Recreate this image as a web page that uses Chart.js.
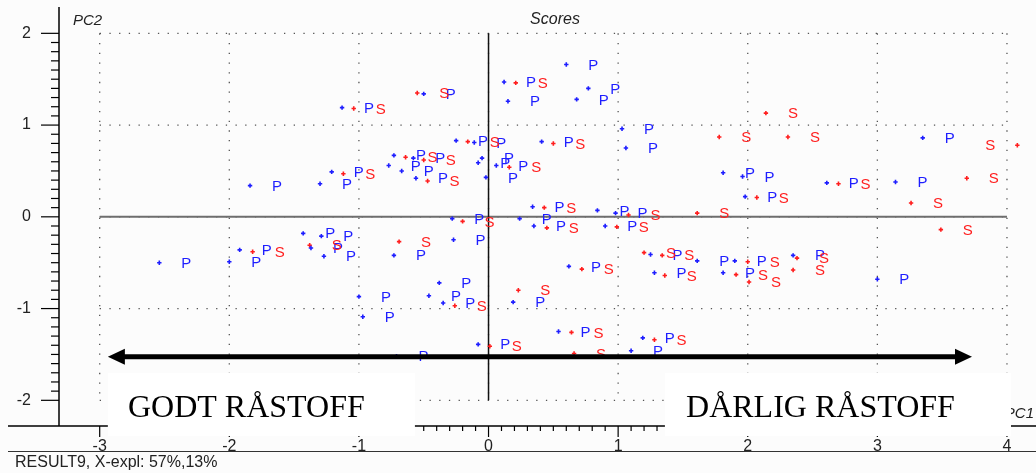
<!DOCTYPE html>
<html>
<head>
<meta charset="utf-8">
<script src="https://cdn.jsdelivr.net/npm/chart.js@4.4.1/dist/chart.umd.min.js"></script>
<style>
  html, body { margin: 0; padding: 0; background: #fcfcfc; }
  canvas { display: block; }
</style>
</head>
<body>
<canvas id="scores" width="1036" height="473"></canvas>
<script>
'use strict';

// ── Data (PC1 / PC2 scores) ──────────────────────────────────────────────────

const pScoreX = [-1.13, -0.50, 0.12, 0.15, 0.60, 0.77, 0.68, 1.03, 1.06, -0.25, -0.11, 0.41,
  -0.73, -0.58, -0.77, -0.67, -0.56, -0.05, -0.08, 0.06, -0.02, -1.21, -1.30, -1.84,
  1.81, 1.96, 1.98, 2.61, 3.14, 3.35, -0.28, 0.24, 0.34, 0.35, 0.84, 0.98, 0.90,
  -2.54, -2.00, -1.92, -1.43, -1.29, -1.37, -1.27, -0.73, -0.27, 0.62, 1.25, 1.28,
  1.61, 1.90, 1.81, 2.35, 3.00, -1.00, -0.97, -0.38, -0.46, -0.35, 0.19, -0.08, 0.54,
  1.19, 1.10, -0.71];
const pScoreY = [1.19, 1.34, 1.47, 1.26, 1.66, 1.40, 1.28, 0.96, 0.75, 0.83, 0.81, 0.82,
  0.67, 0.64, 0.56, 0.50, 0.42, 0.64, 0.59, 0.56, 0.43, 0.49, 0.36, 0.34,
  0.48, 0.44, 0.22, 0.37, 0.38, 0.86, -0.02, -0.02, 0.11, -0.10, 0.07, 0.04, -0.10,
  -0.50, -0.49, -0.36, -0.18, -0.21, -0.34, -0.43, -0.42, -0.25, -0.54, -0.41, -0.61,
  -0.48, -0.48, -0.61, -0.42, -0.68, -0.87, -1.09, -0.72, -0.86, -0.94, -0.93, -1.39, -1.25,
  -1.32, -1.46, -1.52];

const sScoreX = [-1.04, -0.55, 0.21, -0.16, 0.50, -0.64, -0.50, -0.47, 0.16, -1.12,
  2.14, 1.78, 2.31, 4.08, 2.07, 2.70, 3.69, 3.26, 1.61, 3.49,
  -0.20, 0.43, 0.45, 1.08, 0.99, -1.82, -1.38, -0.69, 0.72, 1.20,
  1.34, 1.36, 2.00, 1.91, 2.01, 2.38, 2.35, -0.26, 0.23, 0.01,
  0.64, 0.66, 1.28];
const sScoreY = [1.18, 1.35, 1.46, 0.82, 0.80, 0.65, 0.62, 0.39, 0.54, 0.47,
  1.13, 0.87, 0.87, 0.78, 0.21, 0.36, 0.42, 0.15, 0.04, -0.14,
  -0.05, 0.10, -0.12, 0.02, -0.11, -0.38, -0.31, -0.27, -0.57, -0.39,
  -0.42, -0.64, -0.49, -0.63, -0.71, -0.45, -0.58, -0.97, -0.80, -1.41,
  -1.26, -1.49, -1.34];

const xTicks = [-3, -2, -1, 0, 1, 2, 3, 4];
const yTicks = [-2, -1, 0, 1, 2];

const X_MIN = -3.314, X_MAX = 4.224;
const Y_MIN = -2.28,  Y_MAX = 2.287;

const BLUE = '#1e1eff';
const RED  = '#ff1e1e';
const INK  = '#222';
const SANS = '"Liberation Sans", Arial, sans-serif';
const SERIF = '"Liberation Serif", "Times New Roman", serif';
const LABEL_DX = 27;

// ── Helpers ──────────────────────────────────────────────────────────────────

const toPoints = (xs, ys) => xs.map((v, i) => ({ x: v, y: ys[i] }));

function seg(ctx, x0, y0, x1, y1) {
  ctx.beginPath();
  ctx.moveTo(x0, y0);
  ctx.lineTo(x1, y1);
  ctx.stroke();
}

// ── Plugins ──────────────────────────────────────────────────────────────────

const framePlugin = {
  id: 'frame',
  beforeDatasetsDraw(chart) {
    const { ctx, chartArea: a, scales: { x, y } } = chart;
    const px = v => x.getPixelForValue(v);
    const py = v => y.getPixelForValue(v);
    ctx.save();

    // dotted grid, only inside -3..4 / -2..2
    ctx.strokeStyle = '#555';
    ctx.lineWidth = 1.3;
    ctx.setLineDash([1.3, 8.4]);
    xTicks.forEach(v => seg(ctx, px(v), py(2), px(v), py(-2)));
    yTicks.forEach(v => seg(ctx, px(-3), py(v), px(4), py(v)));
    ctx.setLineDash([]);

    // zero lines
    ctx.strokeStyle = '#6e6e6e';
    ctx.lineWidth = 2;
    seg(ctx, px(-3), py(0), px(4), py(0));
    ctx.strokeStyle = '#111';
    ctx.lineWidth = 1.5;
    seg(ctx, px(0), py(2), px(0), py(-2));

    // y spine with major / minor ticks
    ctx.strokeStyle = '#000';
    ctx.lineWidth = 1.5;
    seg(ctx, a.left, a.top, a.left, a.bottom);
    ctx.lineWidth = 1.2;
    for (let k = -20; k <= 20; k++) {
      const yy = py(k / 10);
      seg(ctx, a.left - (k % 10 === 0 ? 18 : 8), yy, a.left, yy);
    }

    // x axis line with ticks
    ctx.lineWidth = 1.5;
    seg(ctx, 8, a.bottom, chart.width, a.bottom);
    ctx.lineWidth = 1.2;
    for (let k = -30; k <= 40; k++) {
      const xx = px(k / 10);
      seg(ctx, xx, a.bottom, xx, a.bottom + (k % 10 === 0 ? 11 : 5));
    }
    ctx.restore();
  },

  afterDatasetsDraw(chart) {
    const { ctx, chartArea: a } = chart;
    ctx.save();
    ctx.font = '15px ' + SANS;
    ctx.textAlign = 'center';
    ctx.textBaseline = 'middle';
    chart.data.datasets.forEach((ds, i) => {
      ctx.fillStyle = ds.borderColor;
      chart.getDatasetMeta(i).data.forEach(pt => {
        let lx = pt.x + LABEL_DX;
        if (lx + 5 > a.right) lx = pt.x - LABEL_DX;
        ctx.fillText(ds.label, lx, pt.y + 1);
      });
    });
    ctx.restore();
  },

  afterDraw(chart) {
    const { ctx, chartArea: a, scales: { x, y } } = chart;
    const px = v => x.getPixelForValue(v);
    const py = v => y.getPixelForValue(v);
    ctx.save();

    // titles
    ctx.fillStyle = INK;
    ctx.textBaseline = 'middle';
    ctx.font = 'italic 15px ' + SANS;
    ctx.textAlign = 'left';
    ctx.fillText('PC2', 73, 21);
    ctx.textAlign = 'center';
    ctx.font = 'italic 16px ' + SANS;
    ctx.fillText('Scores', 555, 20);
    ctx.font = 'italic 15px ' + SANS;
    ctx.textAlign = 'right';
    ctx.fillText('PC1', a.right - 2, 414);

    // arrow
    const ay = py(-1.525);
    const x0 = px(-2.937), x1 = px(3.73);
    ctx.strokeStyle = '#000';
    ctx.fillStyle = '#000';
    ctx.lineWidth = 5;
    seg(ctx, x0 + 10, ay, x1 - 10, ay);
    ctx.beginPath();
    ctx.moveTo(x0, ay); ctx.lineTo(x0 + 17, ay - 8); ctx.lineTo(x0 + 17, ay + 8);
    ctx.closePath(); ctx.fill();
    ctx.beginPath();
    ctx.moveTo(x1, ay); ctx.lineTo(x1 - 17, ay - 8); ctx.lineTo(x1 - 17, ay + 8);
    ctx.closePath(); ctx.fill();

    // white label boxes
    ctx.fillStyle = '#fff';
    ctx.fillRect(px(-2.937), 373, px(-0.568) - px(-2.937), 63);
    ctx.fillRect(px(1.361), 373, px(4.031) - px(1.361), 63);

    ctx.fillStyle = '#000';
    ctx.font = '32px ' + SERIF;
    ctx.textAlign = 'left';
    ctx.textBaseline = 'alphabetic';
    ctx.fillText('GODT RÅSTOFF', px(-2.782), 417);
    ctx.fillText('DÅRLIG RÅSTOFF', px(1.524), 417);

    // footer
    ctx.strokeStyle = '#333';
    ctx.lineWidth = 1;
    seg(ctx, 8, 451.5, chart.width, 451.5);
    ctx.fillStyle = INK;
    ctx.font = '16px ' + SANS;
    ctx.textBaseline = 'middle';
    ctx.fillText('RESULT9, X-expl: 57%,13%', 15, 463);
    ctx.restore();
  },
};

// ── Chart ────────────────────────────────────────────────────────────────────

const tickFont = { family: SANS, size: 16 };

new Chart(document.getElementById('scores').getContext('2d'), {
  type: 'scatter',
  data: {
    datasets: [
      {
        label: 'P',
        data: toPoints(pScoreX, pScoreY),
        pointStyle: 'cross',
        pointRadius: 2.2,
        borderWidth: 1.6,
        borderColor: BLUE,
        backgroundColor: BLUE,
      },
      {
        label: 'S',
        data: toPoints(sScoreX, sScoreY),
        pointStyle: 'cross',
        pointRadius: 2.2,
        borderWidth: 1.6,
        borderColor: RED,
        backgroundColor: RED,
      },
    ],
  },
  options: {
    responsive: false,
    devicePixelRatio: 1,
    animation: false,
    layout: { autoPadding: false, padding: { top: 7, right: 0, bottom: 0, left: 0 } },
    plugins: { legend: { display: false }, tooltip: { enabled: false } },
    scales: {
      x: {
        type: 'linear',
        min: X_MIN,
        max: X_MAX,
        afterBuildTicks: s => { s.ticks = xTicks.map(v => ({ value: v })); },
        afterFit: s => { s.height = 47; s.paddingLeft = 0; s.paddingRight = 0; },
        grid: { display: false, drawTicks: false },
        border: { display: false },
        ticks: { padding: 11, color: INK, font: tickFont, maxRotation: 0 },
      },
      y: {
        type: 'linear',
        min: Y_MIN,
        max: Y_MAX,
        afterBuildTicks: s => { s.ticks = yTicks.map(v => ({ value: v })); },
        afterFit: s => { s.width = 59; s.paddingTop = 0; s.paddingBottom = 0; },
        grid: { display: false, drawTicks: false },
        border: { display: false },
        ticks: { padding: 28, color: INK, font: tickFont },
      },
    },
  },
  plugins: [framePlugin],
});
</script>
</body>
</html>
